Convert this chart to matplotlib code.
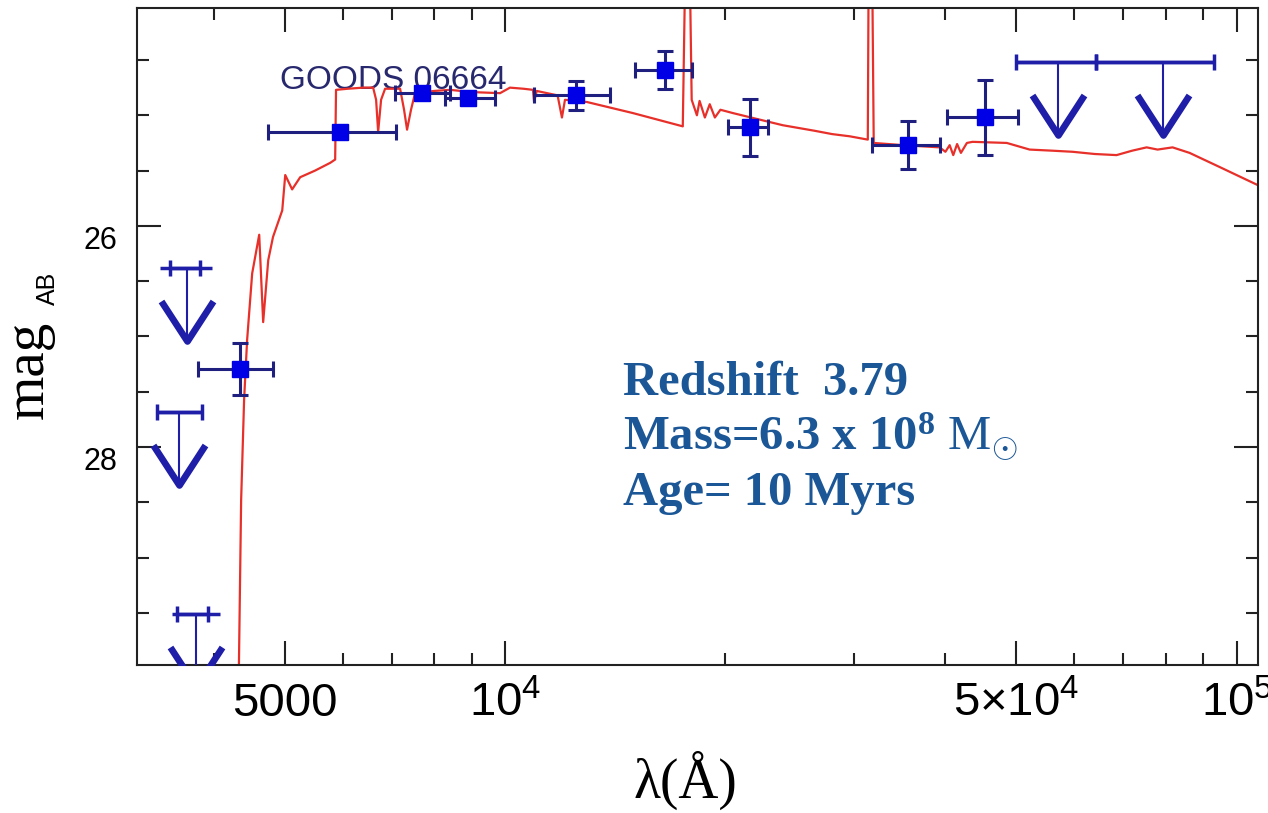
import matplotlib
matplotlib.use('Agg')
import matplotlib.pyplot as plt
from matplotlib.markers import MarkerStyle
from matplotlib.path import Path
from matplotlib.ticker import (FixedLocator, FixedFormatter, MultipleLocator,
                               NullFormatter, FormatStrFormatter)

plt.rcParams['font.family'] = ['Liberation Sans', 'DejaVu Sans']
plt.rcParams['mathtext.fontset'] = 'custom'
plt.rcParams['mathtext.rm'] = 'Liberation Serif'
plt.rcParams['mathtext.sf'] = 'Liberation Sans'

# model SED (red curve), wavelength in Angstrom, AB mag
sed_lam = [4300, 4317, 4358, 4399, 4441, 4512, 4613, 4671, 4746, 4818,
           4960, 5007, 5117, 5248, 5500, 5768, 5859, 5875, 6100, 6400,
           6603, 6665, 6708, 6770, 6856, 7188, 7278, 7347, 7439, 7534,
           8000, 8413, 9000, 9845, 10158, 10600, 10921, 10958, 11050, 11800,
           11963, 12078, 12943, 14957, 17500, 17700, 17830, 17997, 18296, 18450,
           18760, 19050, 19360, 19700, 20490, 22000, 23980, 26500, 28000, 29600,
           31330, 31450, 31700, 31920, 35000, 39280, 40000, 40540, 41000, 41500,
           42000, 42800, 43570, 48520, 52150, 56000, 59700, 64000, 68550, 72000,
           75360, 78000, 81770, 86270, 95690, 106830]
sed_mag = [31.0, 30.5, 28.48, 27.57, 27.03, 26.43, 26.08, 26.87, 26.31, 26.10,
           25.86, 25.54, 25.67, 25.56, 25.50, 25.43, 25.40, 24.77, 24.76, 24.75,
           24.75, 24.86, 25.15, 24.86, 24.76, 24.76, 24.95, 25.13, 24.95, 24.80,
           24.78, 24.77, 24.79, 24.80, 24.75, 24.76, 24.77, 24.88, 24.78, 24.82,
           25.02, 24.86, 24.88, 24.98, 25.10, 23.0, 23.0, 24.86, 25.00, 24.87,
           25.02, 24.90, 25.02, 24.95, 24.98, 25.03, 25.09, 25.14, 25.17, 25.19,
           25.22, 23.0, 23.0, 25.25, 25.27, 25.29, 25.33, 25.27, 25.36, 25.26,
           25.34, 25.25, 25.24, 25.25, 25.31, 25.32, 25.33, 25.35, 25.36, 25.32,
           25.29, 25.31, 25.29, 25.34, 25.48, 25.63]

# photometry: band centre, band edges, mag, mag error
phot_lam = [4345, 5952, 7702, 8903, 12500, 16545, 21610, 35530, 45270]
phot_lo = [3807, 4746, 7075, 8280, 10958, 15048, 20170, 31700, 40160]
phot_hi = [4818, 7098, 8413, 9690, 13914, 17997, 22870, 39280, 50250]
phot_mag = [27.29, 25.15, 24.80, 24.84, 24.82, 24.59, 25.11, 25.27, 25.02]
phot_err = [0.235, 0.05, 0.04, 0.04, 0.13, 0.175, 0.26, 0.215, 0.335]

# upper limits
lim_lam = [3678, 3586, 3785, 56950, 79220]
lim_mag = [26.38, 27.68, 29.51, 24.52, 24.52]
lim_cap_lo = [3486, 3346, 3564, 49900, 64260]
lim_cap_hi = [3831, 3856, 3930, 64260, 93300]
lim_bar_lo = [3379, 3346, 3509, 49900, 64260]
lim_bar_hi = [3979, 3856, 4080, 64260, 93300]
arrow_len = 0.66

x_major = [5000, 1e4, 5e4, 1e5]
x_labels = ['5000', r'$\mathdefault{10^{4}}$', '5×' + r'$\mathdefault{10^{4}}$',
            r'$\mathdefault{10^{5}}$']
x_minor = [4000, 6000, 7000, 8000, 9000, 2e4, 3e4, 4e4, 6e4, 7e4, 8e4, 9e4]

fig = plt.figure(figsize=(12.68, 8.13), dpi=100)
ax = fig.add_axes([137 / 1268, 1 - 665 / 813, 1121 / 1268, 657 / 813])

ax.plot(sed_lam, sed_mag, color='#e8302a', lw=1.6, zorder=2)

xerr = [[c - lo for c, lo in zip(phot_lam, phot_lo)],
        [hi - c for c, hi in zip(phot_lam, phot_hi)]]
ax.errorbar(phot_lam, phot_mag, xerr=xerr, yerr=phot_err, fmt='s', ms=11,
            mfc='#0000e6', mec='#0000e6', ecolor='#1f1f80', elinewidth=2.2,
            capsize=6, capthick=2.2, zorder=4)

# upper limit arrows
lim_col = '#1e1ea8'
tips = [m + arrow_len for m in lim_mag]
ax.vlines(lim_lam, lim_mag, tips, color=lim_col, lw=1.5, zorder=3)
ax.hlines(lim_mag, lim_bar_lo, lim_bar_hi, color=lim_col, lw=2.5, zorder=3)
cap_err = [[c - lo for c, lo in zip(lim_lam, lim_cap_lo)],
           [hi - c for c, hi in zip(lim_lam, lim_cap_hi)]]
ax.errorbar(lim_lam, lim_mag, xerr=cap_err, fmt='none', ecolor=lim_col,
            elinewidth=2.5, capsize=6, capthick=2.5, zorder=3)
v_head = MarkerStyle(Path([(-0.65, 1), (0, 0), (0.65, 1)],
                          [Path.MOVETO, Path.LINETO, Path.LINETO]),
                     fillstyle='none', joinstyle='miter')
ax.plot(lim_lam, tips, ls='none', marker=v_head, ms=57.6, mew=4.8,
        mec=lim_col, zorder=3)

ax.text(0.1276, 0.8767, 'GOODS 06664', transform=ax.transAxes, fontsize=24,
        color='#28286e', va='baseline', zorder=1)

# annotation
ann_col = '#1b5797'
ann_kw = dict(transform=ax.transAxes, fontsize=35, color=ann_col,
              fontweight='bold', family='Liberation Serif', va='baseline')
ax.text(0.4335, 0.411, 'Redshift  3.79', **ann_kw)
ax.text(0.4335, 0.327, r'Mass=6.3 x $\mathdefault{10^{8}}$ $\mathrm{M}_{\odot}$', **ann_kw)
ax.text(0.4335, 0.2435, 'Age= 10 Myrs', **ann_kw)

ax.set_xscale('log')
ax.set_xlim(3140, 1.07e5)
ax.set_ylim(29.97, 24.03)
ax.xaxis.set_major_locator(FixedLocator(x_major))
ax.xaxis.set_major_formatter(FixedFormatter(x_labels))
ax.xaxis.set_minor_locator(FixedLocator(x_minor))
ax.xaxis.set_minor_formatter(NullFormatter())
ax.yaxis.set_major_locator(MultipleLocator(2))
ax.yaxis.set_minor_locator(MultipleLocator(0.5))
ax.yaxis.set_major_formatter(FormatStrFormatter('%d'))

ax.tick_params(which='both', direction='in', top=True, right=True,
               width=1.5, color='#222222')
ax.tick_params(which='major', length=17)
ax.tick_params(which='minor', length=8.5)
ax.tick_params(axis='x', labelsize=34, pad=12)
ax.tick_params(axis='y', labelsize=22, pad=14)
plt.setp(ax.get_yticklabels(), va='top')
for sp in ax.spines.values():
    sp.set_linewidth(1.5)
    sp.set_color('#222222')

ax.set_xlabel('λ(Å)', fontsize=40, family='Liberation Serif')
ax.xaxis.set_label_coords(0.489, -0.131)
fig.text(43 / 1268, 1 - 370 / 813, 'mag', rotation=90, rotation_mode='anchor',
         ha='center', va='baseline', fontsize=41, family='Liberation Serif')
fig.text(55 / 1268, 1 - 288 / 813, 'AB', rotation=90, rotation_mode='anchor',
         ha='center', va='baseline', fontsize=18)

fig.savefig('out.png', dpi=100)
